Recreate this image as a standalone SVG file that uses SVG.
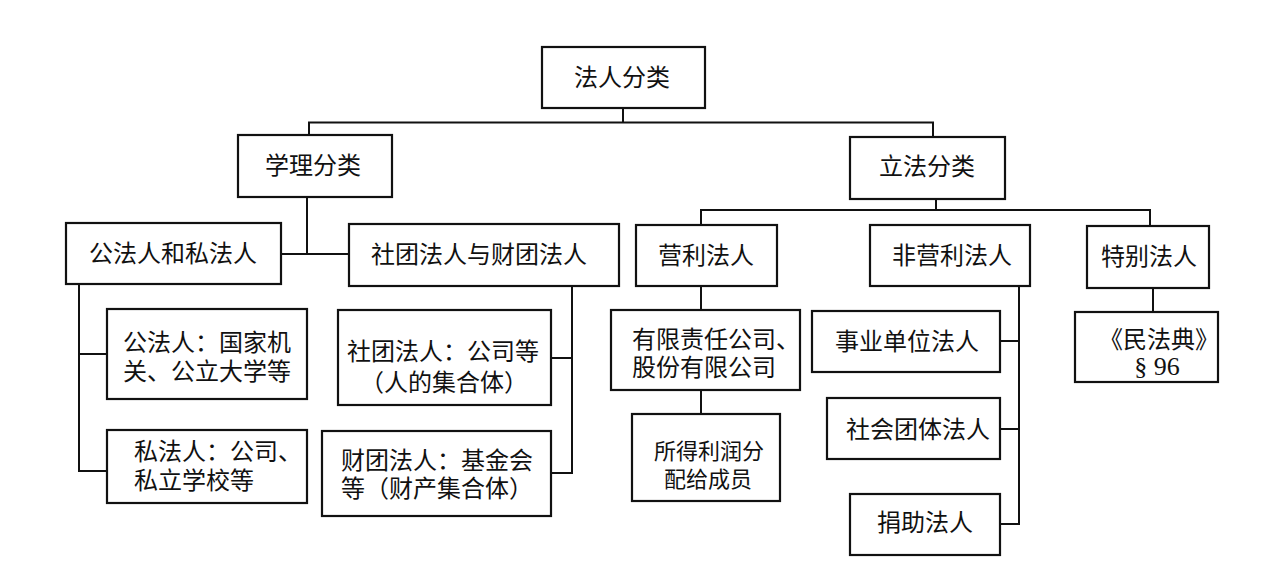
<svg xmlns="http://www.w3.org/2000/svg" width="1284" height="581" viewBox="0 0 1284 581">
<style>
.box{fill:#fff;stroke:#111;stroke-width:2.2}
.ln{fill:none;stroke:#111;stroke-width:2}
text{font-family:"Liberation Sans","Noto Sans CJK SC",sans-serif;font-size:24px;fill:#111}
.c{text-anchor:middle}
.s{font-size:22px}
.ser{font-family:"Liberation Serif","Noto Sans CJK SC",serif;font-size:26px}
</style>
<rect width="1284" height="581" fill="#fff"/>
<g id="connectors" class="ln">
<path d="M623 108V122.5M309 135V122.5H933V137"/>
<path d="M307 197V254M281 254H349"/>
<path d="M79 284V471H107M79 354H107"/>
<path d="M572 286V473H551M551 358H572"/>
<path d="M936 199V210M701 225V210H1150V226"/>
<path d="M701 286V310M701 390V414"/>
<path d="M1019 286V524H1000M1000 341H1019M1000 429H1019"/>
<path d="M1153 288V312"/>
</g>
<g id="n-root"><rect class="box" x="542" y="47" width="163" height="61"/><text class="c" x="622" y="86">法人分类</text></g>
<g id="n-xueli"><rect class="box" x="238" y="135" width="154" height="62"/><text class="c" x="313" y="174">学理分类</text></g>
<g id="n-lifa"><rect class="box" x="850" y="137" width="155" height="62"/><text class="c" x="927" y="175">立法分类</text></g>
<g id="n-gongsi"><rect class="box" x="66" y="223" width="215" height="61"/><text class="c" x="173" y="262">公法人和私法人</text></g>
<g id="n-shecai"><rect class="box" x="349" y="224" width="270" height="62"/><text class="c" x="479" y="263">社团法人与财团法人</text></g>
<g id="n-yingli"><rect class="box" x="636" y="225" width="141" height="61"/><text class="c" x="706" y="264">营利法人</text></g>
<g id="n-feiyingli"><rect class="box" x="870" y="225" width="160" height="61"/><text class="c" x="952" y="264">非营利法人</text></g>
<g id="n-tebie"><rect class="box" x="1087" y="226" width="122" height="62"/><text class="c" x="1149" y="265">特别法人</text></g>
<g id="n-gong"><rect class="box" x="107" y="309" width="200" height="90"/><text x="123" y="351">公法人：国家机<tspan x="123" dy="29">关、公立大学等</tspan></text></g>
<g id="n-si"><rect class="box" x="107" y="430" width="200" height="73"/><text x="134" y="460">私法人：公司、<tspan x="134" dy="29">私立学校等</tspan></text></g>
<g id="n-shetuan"><rect class="box" x="338" y="310" width="213" height="95"/><text class="c" x="443" y="360">社团法人：公司等<tspan x="444" dy="31">（人的集合体）</tspan></text></g>
<g id="n-caituan"><rect class="box" x="322" y="431" width="229" height="85"/><text x="341" y="469">财团法人：基金会<tspan x="341" dy="28">等（财产集合体）</tspan></text></g>
<g id="n-youxian"><rect class="box" x="611" y="310" width="189" height="80"/><text x="632" y="348">有限责任公司、<tspan x="632" dy="28">股份有限公司</tspan></text></g>
<g id="n-suode"><rect class="box" x="632" y="414" width="148" height="87"/><text class="c s" x="709" y="459">所得利润分<tspan x="708" dy="28">配给成员</tspan></text></g>
<g id="n-shiye"><rect class="box" x="812" y="311" width="188" height="61"/><text class="c" x="907" y="350">事业单位法人</text></g>
<g id="n-shehui"><rect class="box" x="827" y="398" width="173" height="61"/><text class="c" x="918" y="438">社会团体法人</text></g>
<g id="n-juanzhu"><rect class="box" x="850" y="494" width="150" height="61"/><text class="c" x="925" y="531">捐助法人</text></g>
<g id="n-minfadian"><rect class="box" x="1075" y="312" width="143" height="70"/><text class="c" x="1159" y="348">《民法典》<tspan class="ser" x="1157" dy="27">§ 96</tspan></text></g>
</svg>
